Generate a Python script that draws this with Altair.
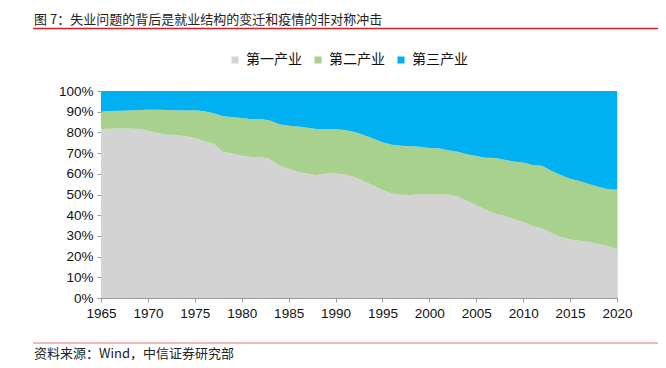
import altair as alt
import pandas as pd

years = list(range(1965, 2021))
primary = [81.6, 81.8, 81.9, 81.9, 81.6, 80.8, 79.7, 78.9, 78.7, 78.2,
           77.2, 75.8, 74.5, 70.5, 69.8, 68.7, 68.1, 68.1, 67.1, 64.0,
           62.4, 60.9, 60.0, 59.3, 60.1, 60.1, 59.7, 58.5, 56.4, 54.3,
           52.2, 50.5, 49.9, 49.8, 50.1, 50.0, 50.0, 50.0, 49.1, 46.9,
           44.8, 42.6, 40.8, 39.6, 38.1, 36.7, 34.8, 33.6, 31.4, 29.5,
           28.3, 27.7, 27.0, 26.1, 25.1, 23.6]
secondary = [8.4, 8.5, 8.5, 8.7, 9.2, 10.2, 11.2, 11.9, 12.0, 12.4,
             13.5, 14.4, 14.8, 17.3, 17.6, 18.2, 18.3, 18.4, 18.7, 19.9,
             20.8, 21.9, 22.2, 22.4, 21.6, 21.4, 21.4, 21.7, 22.4, 22.7,
             23.0, 23.5, 23.7, 23.5, 23.0, 22.5, 22.3, 21.4, 21.6, 22.5,
             23.8, 25.2, 26.8, 27.2, 27.8, 28.7, 29.5, 30.3, 30.1, 29.9,
             29.3, 28.8, 28.1, 27.6, 27.5, 28.7]
tertiary = [round(100 - a - b, 1) for a, b in zip(primary, secondary)]

series_names = ["第一产业", "第二产业", "第三产业"]
series_colors = ["#D3D3D3", "#A9D18E", "#00B0F0"]
x_ticks = list(range(1965, 2021, 5))
y_ticks = [i / 10 for i in range(11)]

title_text = "图 7：失业问题的背后是就业结构的变迁和疫情的非对称冲击"
source_text = "资料来源：Wind，中信证券研究部"

rows = []
for i, y in enumerate(years):
    for k, (name, vals) in enumerate(zip(series_names, [primary, secondary, tertiary])):
        rows.append({"year": y, "series": name, "value": vals[i] / 100.0, "k": k})
df = pd.DataFrame(rows)

W, H = 516, 207
FONT = "Liberation Sans, Arial, Noto Sans CJK SC"
CJK = "Noto Sans CJK SC"

area = alt.Chart(df).mark_area(interpolate="linear").encode(
    x=alt.X("year:Q",
            scale=alt.Scale(domain=[1965, 2020], nice=False, zero=False),
            axis=alt.Axis(values=x_ticks, format="d", title=None, grid=False,
                          tickSize=4, labelPadding=4, labelFontSize=13.5,
                          labelFont=FONT, labelColor="#111",
                          labelFlush=False, labelOverlap=False, labelBound=False,
                          domainColor="#999", tickColor="#999")),
    y=alt.Y("value:Q", stack="zero",
            scale=alt.Scale(domain=[0, 1], nice=False),
            axis=alt.Axis(values=y_ticks, format=".0%", title=None, grid=False,
                          tickSize=4, labelPadding=4, labelFontSize=13.5,
                          labelFont=FONT, labelColor="#111",
                          labelFlush=False, labelOverlap=False,
                          domainColor="#999", tickColor="#999")),
    color=alt.Color("series:N",
                    scale=alt.Scale(domain=series_names, range=series_colors),
                    legend=alt.Legend(title=None, orient="none", direction="horizontal",
                                      legendX=127, legendY=-38,
                                      symbolType="square", symbolSize=49,
                                      symbolStrokeWidth=0, labelFont=CJK,
                                      labelFontSize=14, labelColor="#111",
                                      labelOffset=4, columnPadding=9, padding=0)),
    order=alt.Order("k:Q", sort="ascending"),
)

title_mark = alt.Chart(pd.DataFrame({"t": [title_text]})).mark_text(
    align="left", baseline="middle", font=CJK, fontSize=13, color="#222"
).encode(text="t:N", x=alt.value(-67), y=alt.value(-71))

title_line = alt.Chart(pd.DataFrame({"a": [0]})).mark_rule(
    color="#D42020", strokeWidth=1.3
).encode(x=alt.value(-68), x2=alt.value(560), y=alt.value(-62.5))

foot_line = alt.Chart(pd.DataFrame({"a": [0]})).mark_rule(
    color="#E07070", strokeWidth=1
).encode(x=alt.value(-68), x2=alt.value(560), y=alt.value(252))

foot_text = alt.Chart(pd.DataFrame({"t": [source_text]})).mark_text(
    align="left", baseline="middle", font=CJK, fontSize=13, color="#222"
).encode(text="t:N", x=alt.value(-67), y=alt.value(262.5))

chart = alt.layer(area, title_mark, title_line, foot_line, foot_text).properties(
    width=W, height=H,
    autosize=alt.AutoSizeParams(type="none"),
    padding={"left": 93, "top": 83, "right": 41, "bottom": 62},
).configure_view(stroke=None).configure(background="white")

chart.save("out.html", embed_options={"renderer": "svg", "actions": False})
